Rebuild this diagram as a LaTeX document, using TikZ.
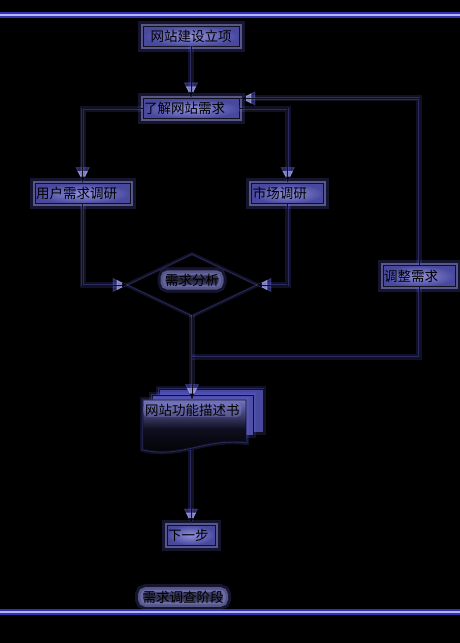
\documentclass[tikz,border=0pt]{standalone}
\usepackage{fontspec}
\newfontfamily\cjk{Noto Sans CJK SC}
\usetikzlibrary{positioning,shapes.geometric,arrows.meta}

\definecolor{wirec}{HTML}{10101E}
\definecolor{glowc}{HTML}{6A6AF0}
\definecolor{boxin}{HTML}{9090DC}
\definecolor{boxout}{HTML}{48489E}
\definecolor{barcore}{HTML}{B4B4F8}
\definecolor{barglow}{HTML}{3232B0}

\tikzset{
  halo/.style={preaction={draw=glowc, line width=6pt, opacity=.16},
               preaction={draw=glowc, line width=2.5pt, opacity=.3}},
  tiphalo/.style={preaction={draw=glowc, line width=1pt, opacity=.35,
                             -{Latex[length=16pt,width=15pt,fill=glowc]}},
                  preaction={draw=glowc!50!white, line width=1pt, opacity=.55,
                             -{Latex[length=12pt,width=11pt,fill=glowc!50!white]}}},
  boxhalo/.style={preaction={draw=glowc, line width=11pt, opacity=.2},
                  preaction={draw=glowc!60!white, line width=5pt, opacity=.45}},
  wire/.style={draw=wirec, line width=.8pt, halo},
  flow/.style={wire, tiphalo, -{Latex[length=6.5pt,width=5.5pt,fill=black]}},
  procbox/.style={draw=wirec, line width=.8pt, boxhalo, shading=radial,
                  inner color=boxin, outer color=boxout, minimum height=20pt,
                  inner xsep=1pt, inner ysep=0pt, align=left, text=black,
                  font=\cjk\fontsize{13.5}{15}\selectfont},
  textglow/.style={fill=boxin, fill opacity=.55, text opacity=1, rounded corners=5pt,
                   inner xsep=2pt, inner ysep=1pt, text=black,
                   font=\cjk\fontsize{13.5}{15}\selectfont},
}

\begin{document}
\begin{tikzpicture}[x=1pt, y=-1pt]
    \fill[black] (0,0) rectangle (460,643);
    \useasboundingbox (0,0) rectangle (460,643);

    % bars
    \draw[barglow, line width=6pt] (0,15) -- (460,15);
    \draw[barcore, line width=2pt] (0,15) -- (460,15);
    \draw[barglow, line width=6pt] (0,612) -- (460,612);
    \draw[barcore, line width=2pt] (0,612) -- (460,612);

    \node[procbox, text width=94pt, align=center] (start) at (191,36) {网站建设立项};
    \node[procbox, text width=94pt, below=52pt of start] (learn) {了解网站需求};

    % research
    \node[procbox, text width=93pt, below left=64pt and 12pt of learn] (user) {用户需求调研};
    \node[procbox, text width=70pt, below right=64pt and 12pt of learn] (market) {市场调研};

    \node[diamond, draw=wirec, line width=.8pt, halo, fill=black, minimum width=126pt,
          minimum height=60pt, inner sep=0pt] (ana) at (192,285) {};
    \node[textglow, fill opacity=.25, boxhalo] (anatext) at (192,280) {需求分析};

    \node[procbox, text width=70pt, minimum height=21pt] (adj) at (419,276) {调整需求};

    % spec
    \draw[wire, fill=boxout] (159,389) rectangle (263,432);
    \draw[wire, fill=boxout!90!boxin] (152,395) rectangle (253,435);
    \draw[wire, top color=boxin!60!boxout, bottom color=black, middle color=black!80!boxout]
        (143,400) -- (246,400) -- (246,442) .. controls (205,437) and (180,458) .. (143,449) -- cycle;
    \node[textglow, fill opacity=.3, anchor=west] (spec) at (143,410) {网站功能描述书};
    \coordinate (spectop) at (192,400);
    \coordinate (specbot) at (191,450);
    \coordinate (merge) at (192,357);

    \node[procbox, text width=46pt] (next) at (191,535) {下一步};

    \node[textglow, fill opacity=.35, boxhalo] (stage) at (183,597) {需求调查阶段};

    \draw[flow] (start) -- (learn);
    \draw[flow] (learn.west) -| (user.north);
    \draw[flow] (learn.east) -| (market.north);
    \draw[flow] (user.south) |- (ana.west);
    \draw[flow] (market.south) |- (ana.east);
    \draw[flow] (ana.south) -- (spectop);
    \draw[wire] (merge) -| (adj.south);
    \draw[flow] (adj.north) |- (learn.north east);
    \draw[flow] (specbot) -- (next.north);
\end{tikzpicture}
\end{document}
